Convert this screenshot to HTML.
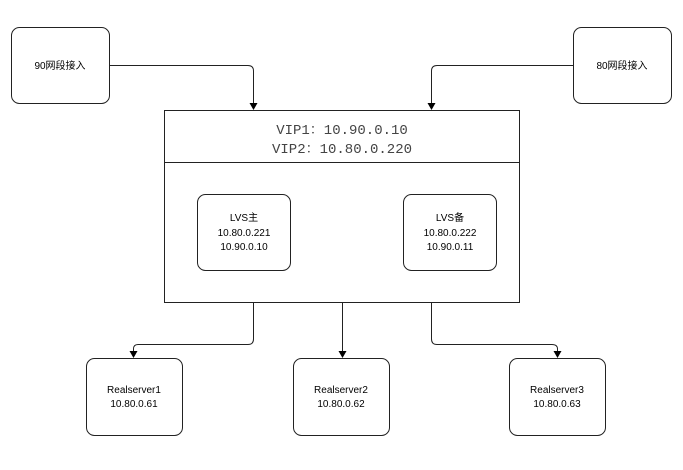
<!DOCTYPE html>
<html><head><meta charset="utf-8"><style>
body{margin:0;background:#fff;}
svg text{font-family:"Liberation Sans","Noto Sans CJK SC",sans-serif;font-size:10px;fill:#000;}
</style></head><body>
<svg width="683" height="465" viewBox="0 0 683 465" xmlns="http://www.w3.org/2000/svg">
<g fill="none" stroke="#222" stroke-width="1">
<rect x="11.5" y="27.5" width="98" height="76" rx="8"/>
<rect x="573.5" y="27.5" width="98" height="76" rx="8"/>
<rect x="164.5" y="110.5" width="355" height="192"/>
<line x1="164" y1="162.5" x2="520" y2="162.5"/>
<rect x="197.5" y="194.5" width="93" height="76" rx="8"/>
<rect x="403.5" y="194.5" width="93" height="76" rx="8"/>
<rect x="86.5" y="358.5" width="96" height="77" rx="8"/>
<rect x="293.5" y="358.5" width="96" height="77" rx="8"/>
<rect x="509.5" y="358.5" width="96" height="77" rx="8"/>
<path d="M110,65.5 H248 Q253.5,65.5 253.5,71 V104"/>
<path d="M573,65.5 H437 Q431.5,65.5 431.5,71 V104"/>
<path d="M253.5,302 V339 Q253.5,344.5 248,344.5 H138 Q133.5,344.5 133.5,349 V352"/>
<path d="M342.5,302 V352"/>
<path d="M431.5,302 V339 Q431.5,344.5 437,344.5 H552 Q557.5,344.5 557.5,349 V352"/>
</g>
<g fill="#000">
<path d="M249.5,103 L257.5,103 L253.5,110 z"/>
<path d="M427.5,103 L435.5,103 L431.5,110 z"/>
<path d="M129.5,351 L137.5,351 L133.5,358 z"/>
<path d="M338.5,351 L346.5,351 L342.5,358 z"/>
<path d="M553.5,351 L561.5,351 L557.5,358 z"/>
</g>
<text x="60" y="69" text-anchor="middle">90网段接入</text>
<text x="622" y="69" text-anchor="middle">80网段接入</text>
<text x="342" y="134" text-anchor="middle" style="font-family:'Liberation Mono','Noto Serif CJK SC',monospace;font-size:14px;fill:#444">VIP1：10.90.0.10</text>
<text x="342" y="153" text-anchor="middle" style="font-family:'Liberation Mono','Noto Serif CJK SC',monospace;font-size:14px;fill:#444">VIP2：10.80.0.220</text>
<text x="244" y="221" text-anchor="middle">LVS主</text>
<text x="244" y="236" text-anchor="middle">10.80.0.221</text>
<text x="244" y="250" text-anchor="middle">10.90.0.10</text>
<text x="450" y="221" text-anchor="middle">LVS备</text>
<text x="450" y="236" text-anchor="middle">10.80.0.222</text>
<text x="450" y="250" text-anchor="middle">10.90.0.11</text>
<text x="134" y="393" text-anchor="middle">Realserver1</text>
<text x="134" y="407" text-anchor="middle">10.80.0.61</text>
<text x="341" y="393" text-anchor="middle">Realserver2</text>
<text x="341" y="407" text-anchor="middle">10.80.0.62</text>
<text x="557" y="393" text-anchor="middle">Realserver3</text>
<text x="557" y="407" text-anchor="middle">10.80.0.63</text>
</svg>
</body></html>
